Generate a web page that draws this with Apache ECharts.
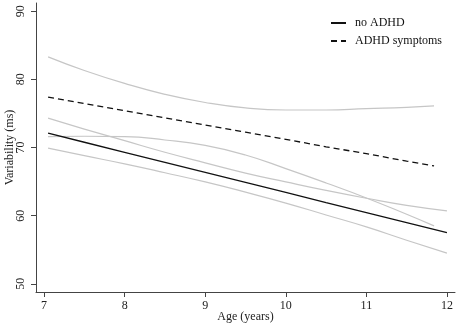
<!DOCTYPE html>
<html>
<head>
<meta charset="utf-8">
<script src="https://cdn.jsdelivr.net/npm/echarts@6/dist/echarts.min.js"></script>
<style>
html, body { margin: 0; padding: 0; background: #fff; }
#container { width: 459px; height: 327px; }
</style>
</head>
<body>
<div id="container"></div>
<script>
// ages (years)
var agesNo = [7.05, 7.5, 8, 8.5, 9, 9.5, 10, 10.5, 11, 11.5, 12];
var agesAdhd = [7.05, 7.5, 8, 8.5, 9, 9.5, 10, 10.5, 11, 11.5, 11.84];

// variability (ms)
var noAdhd = [72.1, 70.77, 69.3, 67.82, 66.35, 64.87, 63.4, 61.92, 60.45, 58.97, 57.5];
var noAdhdUpper = [74.3, 72.7, 71.0, 69.3, 67.75, 66.25, 64.95, 63.7, 62.55, 61.5, 60.7];
var noAdhdLower = [69.9, 68.8, 67.6, 66.3, 64.95, 63.45, 61.85, 60.1, 58.35, 56.4, 54.5];

var adhd = [77.4, 76.45, 75.4, 74.35, 73.3, 72.25, 71.2, 70.1, 69.1, 68.0, 67.3];
var adhdUpper = [83.3, 81.3, 79.4, 77.8, 76.6, 75.8, 75.5, 75.5, 75.7, 75.9, 76.1];
var adhdLower = [71.6, 71.65, 71.6, 71.1, 70.3, 68.9, 66.9, 64.8, 62.6, 60.2, 58.5];

var xTicks = [7, 8, 9, 10, 11, 12];
var yTicks = [50, 60, 70, 80, 90];

function pairs(xs, ys) {
    return xs.map(function (x, i) { return [x, ys[i]]; });
}

var font = 'Liberation Serif';
var gray = '#c6c6c6';

var dom = document.getElementById("container");
var myChart = echarts.init(dom);
var option = {
    animation: false,
    backgroundColor: '#fff',
    textStyle: { fontFamily: font },
    grid: { left: 36, right: 4, top: 3, bottom: 35, containLabel: false, outerBoundsMode: 'none' },
    legend: {
        orient: 'vertical',
        left: 325,
        top: 12,
        itemWidth: 15,
        itemHeight: 10,
        itemGap: 6,
        data: ['no ADHD', 'ADHD symptoms'],
        itemStyle: { opacity: 0 },
        textStyle: { fontFamily: font, fontSize: 12, color: '#111', padding: [0, 0, 0, 4] }
    },
    xAxis: {
        type: 'value',
        min: 6.9,
        max: 12.1,
        name: 'Age (years)',
        nameLocation: 'middle',
        nameGap: 19,
        nameMoveOverlap: false,
        nameTextStyle: { fontFamily: font, fontSize: 12, color: '#222' },
        splitLine: { show: false },
        axisLine: { show: true, lineStyle: { color: '#444', width: 1 } },
        axisTick: { show: true, customValues: xTicks, length: 5, lineStyle: { color: '#444' } },
        axisLabel: { customValues: xTicks, margin: 8, fontFamily: font, fontSize: 12, color: '#222' }
    },
    yAxis: {
        type: 'value',
        min: 48.8,
        max: 91.2,
        name: 'Variability (ms)',
        nameLocation: 'middle',
        nameGap: 20,
        nameMoveOverlap: false,
        nameRotate: 90,
        nameTextStyle: { fontFamily: font, fontSize: 12, color: '#222' },
        splitLine: { show: false },
        axisLine: { show: true, lineStyle: { color: '#444', width: 1 } },
        axisTick: { show: true, customValues: yTicks, length: 5, lineStyle: { color: '#444' } },
        axisLabel: { customValues: yTicks, rotate: 90, margin: 9, fontFamily: font, fontSize: 12, color: '#222' }
    },
    series: [
        { name: 'ci1', type: 'line', symbol: 'none', smooth: true, data: pairs(agesAdhd, adhdUpper), lineStyle: { color: gray, width: 1.2 } },
        { name: 'ci2', type: 'line', symbol: 'none', smooth: true, data: pairs(agesAdhd, adhdLower), lineStyle: { color: gray, width: 1.2 } },
        { name: 'ci3', type: 'line', symbol: 'none', smooth: true, data: pairs(agesNo, noAdhdUpper), lineStyle: { color: gray, width: 1.2 } },
        { name: 'ci4', type: 'line', symbol: 'none', smooth: true, data: pairs(agesNo, noAdhdLower), lineStyle: { color: gray, width: 1.2 } },
        { name: 'no ADHD', type: 'line', symbol: 'none', data: pairs(agesNo, noAdhd), itemStyle: { color: '#111' }, lineStyle: { color: '#111', width: 1.3 } },
        { name: 'ADHD symptoms', type: 'line', symbol: 'none', data: pairs(agesAdhd, adhd), itemStyle: { color: '#111' }, lineStyle: { color: '#111', width: 1.3, type: [6, 4] } }
    ]
};
if (option && typeof option === "object") {
    myChart.setOption(option, true);
}
</script>
</body>
</html>
